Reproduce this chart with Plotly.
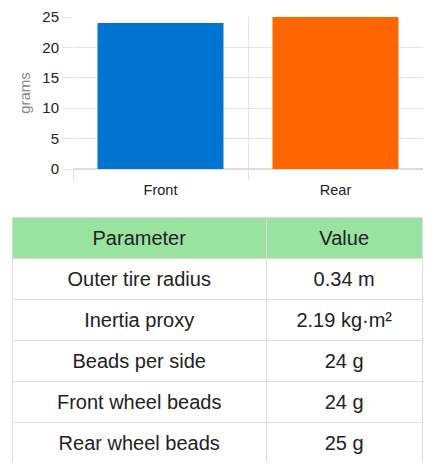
import plotly.graph_objects as go

categories = ["Front", "Rear"]
grams = [24, 25]
bar_colors = ["#0074cf", "#ff6600"]

param_names = ["Outer tire radius", "Inertia proxy", "Beads per side",
               "Front wheel beads", "Rear wheel beads"]
param_values = ["0.34 m", "2.19 kg·m²", "24 g", "24 g", "25 g"]
header_labels = ["Parameter", "Value"]

W, H = 435, 476
FONT = "Liberation Sans, Arial, sans-serif"
ROW_H = 41
TEXT_SHIFT = 5  # px: text sits a little lower inside each cell

fig = go.Figure()
fig.add_trace(go.Bar(
    x=categories, y=grams, marker=dict(color=bar_colors, line=dict(width=0)),
    width=0.72, showlegend=False, xaxis="x", yaxis="y",
))

tbl_x = [12 / W, 423 / W]
tbl_y = [13 / H, 259 / H]

# grid, fills (no text)
fig.add_trace(go.Table(
    domain=dict(x=tbl_x, y=tbl_y),
    columnwidth=[255, 156],
    header=dict(
        values=["" for _ in header_labels],
        fill_color="#99e2a0",
        line=dict(color="#dddddd", width=1),
        font=dict(family=FONT, size=19, color="#222222"),
        align="center", height=ROW_H,
    ),
    cells=dict(
        values=[["" for _ in param_names], ["" for _ in param_values]],
        fill_color="#ffffff",
        line=dict(color="#dddddd", width=1),
        font=dict(family=FONT, size=19, color="#222222"),
        align="center", height=ROW_H,
    ),
))

# text layer
fig.add_trace(go.Table(
    domain=dict(x=tbl_x, y=[tbl_y[0] - TEXT_SHIFT / H, tbl_y[1] - TEXT_SHIFT / H]),
    columnwidth=[255, 156],
    header=dict(
        values=header_labels,
        fill_color="rgba(0,0,0,0)",
        line=dict(color="rgba(0,0,0,0)", width=0),
        font=dict(family=FONT, size=20, color="#222222"),
        align="center", height=ROW_H,
    ),
    cells=dict(
        values=[param_names, param_values],
        fill_color="rgba(0,0,0,0)",
        line=dict(color="rgba(0,0,0,0)", width=0),
        font=dict(family=FONT, size=20, color="#222222"),
        align="center", height=ROW_H,
    ),
))

fig.update_layout(
    width=W, height=H,
    margin=dict(l=0, r=0, t=0, b=0, autoexpand=False),
    paper_bgcolor="white", plot_bgcolor="white",
    font=dict(family=FONT, color="#222222"),
    xaxis=dict(
        domain=[73 / W, 423 / W], type="category", automargin=False,
        tickson="boundaries", ticks="outside", ticklen=10,
        tickcolor="#e0e0e0", showgrid=True, gridcolor="#e5e5e5",
        showline=False, zeroline=False,
        tickfont=dict(family=FONT, size=14.5, color="#222222"),
        ticklabelstandoff=10,
        anchor="y",
    ),
    yaxis=dict(
        domain=[(H - 169) / H, (H - 17) / H], range=[0, 25], automargin=False,
        tickmode="linear", tick0=0, dtick=5,
        ticks="outside", ticklen=10, tickcolor="#e5e5e5",
        showgrid=True, gridcolor="#e5e5e5", zeroline=True,
        zerolinecolor="#dcdcdc", showline=False,
        tickfont=dict(family=FONT, size=15, color="#222222"),
        title=dict(text="grams", font=dict(family=FONT, size=15, color="#888888"), standoff=8),
        anchor="x",
    ),
)

fig.write_html("out.html")
